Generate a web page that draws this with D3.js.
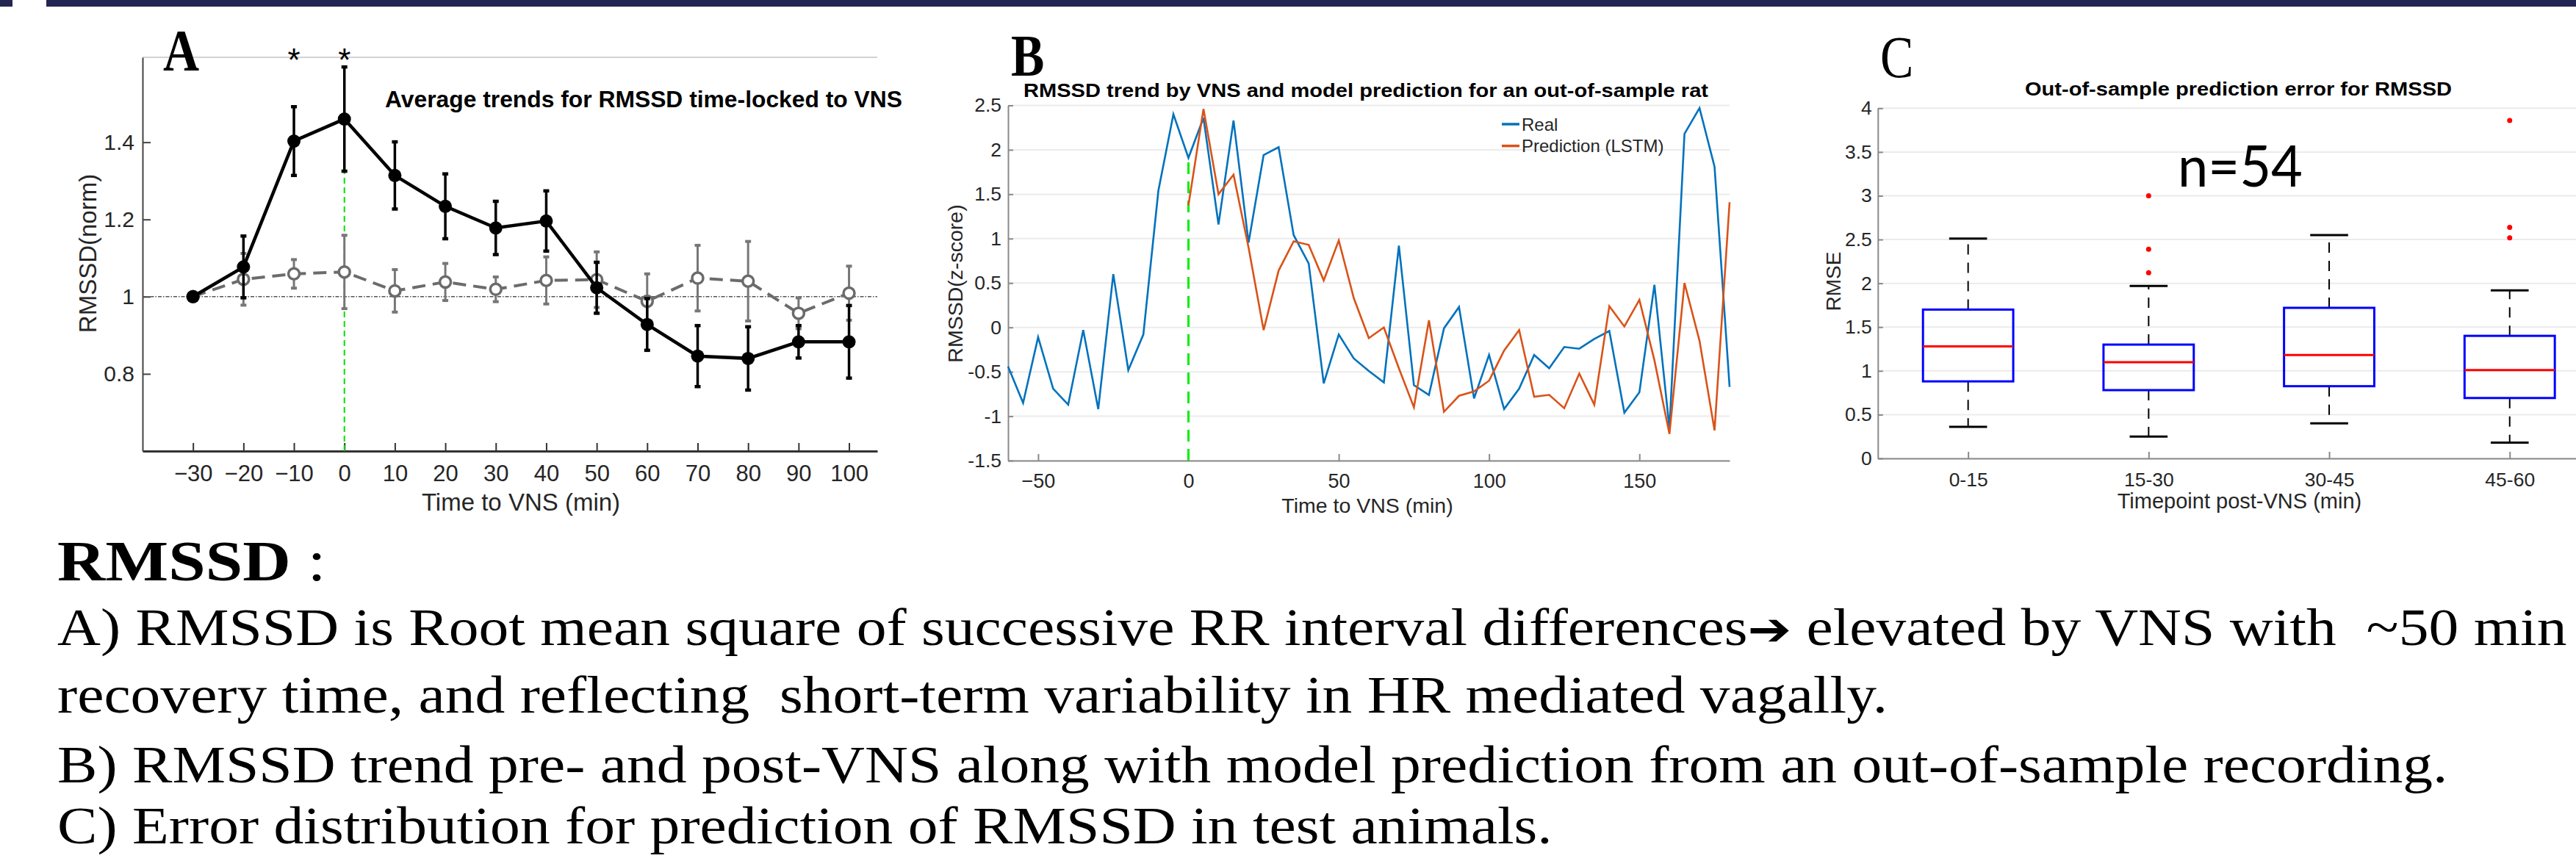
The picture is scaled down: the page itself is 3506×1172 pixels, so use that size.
<!DOCTYPE html>
<html>
<head>
<meta charset="utf-8">
<script src="https://cdn.jsdelivr.net/npm/d3@7"></script>
<style>
  html, body { margin: 0; padding: 0; background: #fff; }
  svg { display: block; }
</style>
</head>
<body>
<svg id="fig" width="3506" height="1172" font-family='"Liberation Sans", Arial, sans-serif'></svg>
<script>
// ---------- Panel A: average trends (mean +/- sem) ----------
const timeA = [-30, -20, -10, 0, 10, 20, 30, 40, 50, 60, 70, 80, 90, 100];
const vnsMean = [1.0, 1.077, 1.403, 1.460, 1.314, 1.234, 1.178, 1.196, 1.023, 0.928, 0.846, 0.840, 0.883, 0.883];
const vnsSem = [0, 0.080, 0.089, 0.135, 0.087, 0.084, 0.069, 0.078, 0.066, 0.067, 0.079, 0.082, 0.042, 0.094];
const shamMean = [1.0, 1.045, 1.059, 1.064, 1.015, 1.038, 1.019, 1.042, 1.044, 0.988, 1.048, 1.040, 0.957, 1.009];
const shamSem = [0, 0.067, 0.037, 0.095, 0.055, 0.048, 0.032, 0.061, 0.072, 0.071, 0.085, 0.103, 0.040, 0.070];
const sigTimes = [-10, 0];
const yTicksA = [0.8, 1, 1.2, 1.4];

// ---------- Panel B: real vs predicted trend ----------
const timeReal = [-60, -55, -50, -45, -40, -35, -30, -25, -20, -15, -10, -5, 0, 5, 10, 15, 20, 25, 30, 35,
  40, 45, 50, 55, 60, 65, 70, 75, 80, 85, 90, 95, 100, 105, 110, 115, 120, 125, 130, 135, 140, 145, 150,
  155, 160, 165, 170, 175, 180];
const realVals = [-0.44, -0.85, -0.11, -0.69, -0.87, -0.03, -0.92, 0.60, -0.48, -0.08, 1.54, 2.40, 1.91,
  2.36, 1.16, 2.33, 0.955, 1.94, 2.03, 1.04, 0.72, -0.63, -0.08, -0.35, -0.49, -0.62, 0.92, -0.65, -0.76,
  -0.01, 0.23, -0.80, -0.31, -0.92, -0.69, -0.31, -0.46, -0.22, -0.24, -0.13, -0.04, -0.96, -0.73, 0.48,
  -1.14, 2.18, 2.47, 1.81, -0.67];
const timePred = [0, 5, 10, 15, 20, 25, 30, 35, 40, 45, 50, 55, 60, 65, 70, 75, 80, 85, 90, 95, 100, 105,
  110, 115, 120, 125, 130, 135, 140, 145, 150, 155, 160, 165, 170, 175, 180];
const predVals = [1.375, 2.46, 1.50, 1.72, 0.90, -0.03, 0.64, 0.97, 0.93, 0.53, 0.98, 0.33, -0.12, 0.0,
  -0.46, -0.90, 0.08, -0.95, -0.77, -0.72, -0.60, -0.26, -0.03, -0.78, -0.76, -0.91, -0.52, -0.87, 0.24,
  0.01, 0.31, -0.37, -1.20, 0.50, -0.15, -1.16, 1.41];
const xTicksB = [-50, 0, 50, 100, 150];
const yTicksB = [-1.5, -1, -0.5, 0, 0.5, 1, 1.5, 2, 2.5];

// ---------- Panel C: boxplots of prediction error ----------
const boxCats = ["0-15", "15-30", "30-45", "45-60"];
const whiskLo = [0.36, 0.25, 0.40, 0.18];
const q1 = [0.88, 0.78, 0.825, 0.69];
const med = [1.28, 1.10, 1.18, 1.01];
const q3 = [1.70, 1.30, 1.72, 1.40];
const whiskHi = [2.51, 1.97, 2.55, 1.92];
const outliers = [[], [3.00, 2.39, 2.12], [], [3.86, 2.64, 2.52]];
const yTicksC = [0, 0.5, 1, 1.5, 2, 2.5, 3, 3.5, 4];

const SANS = '"Liberation Sans", Arial, sans-serif';
const SERIF = '"Liberation Serif", "Times New Roman", serif';

const svg = d3.select("#fig");
svg.append("rect").attr("width", 3506).attr("height", 1172).attr("fill", "#fff");

// slide header bar
svg.append("rect").attr("x", 0).attr("y", 0).attr("width", 17).attr("height", 9).attr("fill", "#222650");
svg.append("rect").attr("x", 63).attr("y", 0).attr("width", 3443).attr("height", 9).attr("fill", "#222650");

function styleAxis(g, lineColor, lineWidth, fontSize) {
  g.attr("font-family", SANS);
  g.select(".domain").attr("stroke", lineColor).attr("stroke-width", lineWidth);
  g.selectAll(".tick line").attr("stroke", lineColor).attr("stroke-width", 2);
  g.selectAll(".tick text").attr("fill", "#262626").attr("font-size", fontSize);
}

function panelLetter(x, y, letter, bold) {
  svg.append("text")
    .attr("transform", `translate(${x},${y}) scale(0.85,1)`)
    .attr("font-family", SERIF)
    .attr("font-weight", bold ? "bold" : "normal")
    .attr("font-size", 80).text(letter);
}

// ================= Panel A =================
const xA = d3.scaleLinear().domain([-40, 105.6]).range([194, 1194]);
const yA = d3.scaleLinear().domain([0.6, 1.62]).range([614, 78]);
const gA = svg.append("g");

gA.append("line")
  .attr("x1", xA.range()[0]).attr("x2", xA.range()[1])
  .attr("y1", yA(1.62)).attr("y2", yA(1.62))
  .attr("stroke", "#c4c4c4").attr("stroke-width", 1.5);

gA.append("g").attr("transform", `translate(0,${yA.range()[0]})`)
  .call(d3.axisBottom(xA).tickValues(timeA).tickSize(-11).tickSizeOuter(0).tickPadding(19))
  .call(g => styleAxis(g, "#333", 3, 31));
gA.append("g").attr("transform", `translate(${xA.range()[0]},0)`)
  .call(d3.axisLeft(yA).tickValues(yTicksA).tickSize(-11).tickSizeOuter(0).tickPadding(11)
    .tickFormat(d => String(d)))
  .call(g => styleAxis(g, "#444", 2, 30));

// reference lines
gA.append("line")
  .attr("x1", xA.range()[0]).attr("x2", xA.range()[1])
  .attr("y1", yA(1)).attr("y2", yA(1))
  .attr("stroke", "#555").attr("stroke-width", 1.6).attr("stroke-dasharray", "5,2,1.5,2");
gA.append("line")
  .attr("x1", xA(0)).attr("x2", xA(0))
  .attr("y1", yA(0.6)).attr("y2", yA(vnsMean[timeA.indexOf(0)]))
  .attr("stroke", "#00e000").attr("stroke-width", 2).attr("stroke-dasharray", "8,5");

function errorBars(g, means, sems, color, width) {
  timeA.forEach((t, i) => {
    if (!sems[i]) return;
    const x = xA(t), y0 = yA(means[i] - sems[i]), y1 = yA(means[i] + sems[i]);
    g.append("line").attr("x1", x).attr("x2", x).attr("y1", y0).attr("y2", y1)
      .attr("stroke", color).attr("stroke-width", width);
    [y0, y1].forEach(y => g.append("line").attr("x1", x - 4).attr("x2", x + 4)
      .attr("y1", y).attr("y2", y).attr("stroke", color).attr("stroke-width", width + 1));
  });
}

// sham (dashed gray, open circles)
const lineA = d3.line().x(d => xA(d[0])).y(d => yA(d[1]));
errorBars(gA, shamMean, shamSem, "#777", 3);
gA.append("path").datum(d3.zip(timeA, shamMean)).attr("d", lineA)
  .attr("fill", "none").attr("stroke", "#6b6b6b").attr("stroke-width", 4)
  .attr("stroke-dasharray", "18,10");
gA.selectAll("circle.sham").data(d3.zip(timeA, shamMean)).enter().append("circle")
  .attr("class", "sham").attr("cx", d => xA(d[0])).attr("cy", d => yA(d[1])).attr("r", 7.5)
  .attr("fill", "#fff").attr("stroke", "#6b6b6b").attr("stroke-width", 3.5);

// VNS (solid black, filled circles)
errorBars(gA, vnsMean, vnsSem, "#000", 3.5);
gA.append("path").datum(d3.zip(timeA, vnsMean)).attr("d", lineA)
  .attr("fill", "none").attr("stroke", "#000").attr("stroke-width", 4.5);
gA.selectAll("circle.vns").data(d3.zip(timeA, vnsMean)).enter().append("circle")
  .attr("class", "vns").attr("cx", d => xA(d[0])).attr("cy", d => yA(d[1])).attr("r", 9)
  .attr("fill", "#000");

gA.selectAll("text.sig").data(sigTimes).enter().append("text")
  .attr("class", "sig").attr("x", d => xA(d)).attr("y", 97)
  .attr("text-anchor", "middle").attr("font-size", 44).text("*");

gA.append("text").attr("x", 524).attr("y", 146).attr("font-weight", "bold").attr("font-size", 31.5)
  .attr("textLength", 704).attr("lengthAdjust", "spacingAndGlyphs")
  .text("Average trends for RMSSD time-locked to VNS");
gA.append("text").attr("x", 709).attr("y", 695).attr("text-anchor", "middle")
  .attr("font-size", 33).attr("fill", "#262626").text("Time to VNS (min)");
gA.append("text").attr("transform", "translate(131,345) rotate(-90)").attr("text-anchor", "middle")
  .attr("font-size", 33).attr("fill", "#262626").text("RMSSD(norm)");
panelLetter(222, 96, "A", true);

// ================= Panel B =================
const xB = d3.scaleLinear().domain([-60, 180]).range([1372, 2354]);
const yB = d3.scaleLinear().domain([-1.5, 2.5]).range([627, 143.5]);
const gB = svg.append("g");

gB.selectAll("line.grid").data(yTicksB).enter().append("line")
  .attr("class", "grid").attr("x1", xB.range()[0]).attr("x2", xB.range()[1])
  .attr("y1", d => yB(d)).attr("y2", d => yB(d))
  .attr("stroke", "#ebebeb").attr("stroke-width", 2);

gB.append("g").attr("transform", `translate(0,${yB.range()[0]})`)
  .call(d3.axisBottom(xB).tickValues(xTicksB).tickSize(-9).tickSizeOuter(0).tickPadding(18))
  .call(g => styleAxis(g, "#8a8a8a", 2, 27));
gB.append("g").attr("transform", `translate(${xB.range()[0]},0)`)
  .call(d3.axisLeft(yB).tickValues(yTicksB).tickSize(-7).tickSizeOuter(0).tickPadding(9)
    .tickFormat(d => String(d)))
  .call(g => styleAxis(g, "#8a8a8a", 2, 26.5));

gB.append("line")
  .attr("x1", xB(0)).attr("x2", xB(0))
  .attr("y1", yB(-1.5)).attr("y2", yB(realVals[timeReal.indexOf(0)] - 0.05))
  .attr("stroke", "#00ee00").attr("stroke-width", 3).attr("stroke-dasharray", "16,10");

const lineB = d3.line().x(d => xB(d[0])).y(d => yB(d[1]));
gB.append("path").datum(d3.zip(timeReal, realVals)).attr("d", lineB)
  .attr("fill", "none").attr("stroke", "#0072BD").attr("stroke-width", 2.6);
gB.append("path").datum(d3.zip(timePred, predVals)).attr("d", lineB)
  .attr("fill", "none").attr("stroke", "#D95319").attr("stroke-width", 2.6);

const legendB = [["Real", "#0072BD"], ["Prediction (LSTM)", "#D95319"]];
legendB.forEach((d, i) => {
  const y = 169 + i * 29.6;
  gB.append("line").attr("x1", 2044).attr("x2", 2068).attr("y1", y).attr("y2", y)
    .attr("stroke", d[1]).attr("stroke-width", 3.5);
  gB.append("text").attr("x", 2071).attr("y", y + 8.5).attr("font-size", 24)
    .attr("fill", "#262626").text(d[0]);
});

gB.append("text").attr("x", 1393).attr("y", 132).attr("font-weight", "bold").attr("font-size", 25.5)
  .attr("textLength", 932).attr("lengthAdjust", "spacingAndGlyphs")
  .text("RMSSD trend by VNS and model prediction for an out-of-sample rat");
gB.append("text").attr("x", 1861).attr("y", 698).attr("text-anchor", "middle")
  .attr("font-size", 28.5).attr("fill", "#262626").text("Time to VNS (min)");
gB.append("text").attr("transform", "translate(1310,386) rotate(-90)").attr("text-anchor", "middle")
  .attr("font-size", 28.5).attr("fill", "#262626").text("RMSSD(z-score)");
panelLetter(1376, 103, "B", true);

// ================= Panel C =================
const xC = d3.scaleLinear().domain([0.5, 4.5]).range([2555.8, 3538.6]);
const yC = d3.scaleLinear().domain([0, 4]).range([624, 147.3]);
const gC = svg.append("g");

gC.selectAll("line.grid").data(yTicksC).enter().append("line")
  .attr("class", "grid").attr("x1", xC.range()[0]).attr("x2", xC.range()[1])
  .attr("y1", d => yC(d)).attr("y2", d => yC(d))
  .attr("stroke", "#ebebeb").attr("stroke-width", 2);

gC.append("g").attr("transform", `translate(0,${yC.range()[0]})`)
  .call(d3.axisBottom(xC).tickValues(boxCats.map((c, i) => i + 1)).tickSize(-9).tickSizeOuter(0)
    .tickPadding(19).tickFormat((d, i) => boxCats[i]))
  .call(g => styleAxis(g, "#8a8a8a", 2, 26.5));
gC.append("g").attr("transform", `translate(${xC.range()[0]},0)`)
  .call(d3.axisLeft(yC).tickValues(yTicksC).tickSize(-7).tickSizeOuter(0).tickPadding(8)
    .tickFormat(d => String(d)))
  .call(g => styleAxis(g, "#8a8a8a", 2, 26.5));

const boxW = xC(0.5) - xC(0), capW = xC(0.21) - xC(0);
boxCats.forEach((c, i) => {
  const cx = xC(i + 1);
  // whiskers
  [[q3[i], whiskHi[i]], [q1[i], whiskLo[i]]].forEach(([a, b]) => {
    gC.append("line").attr("x1", cx).attr("x2", cx).attr("y1", yC(a)).attr("y2", yC(b))
      .attr("stroke", "#000").attr("stroke-width", 2).attr("stroke-dasharray", "14,11");
    gC.append("line").attr("x1", cx - capW / 2).attr("x2", cx + capW / 2)
      .attr("y1", yC(b)).attr("y2", yC(b)).attr("stroke", "#000").attr("stroke-width", 3);
  });
  gC.append("rect").attr("x", cx - boxW / 2).attr("width", boxW)
    .attr("y", yC(q3[i])).attr("height", yC(q1[i]) - yC(q3[i]))
    .attr("fill", "none").attr("stroke", "#0000ff").attr("stroke-width", 3);
  gC.append("line").attr("x1", cx - boxW / 2).attr("x2", cx + boxW / 2)
    .attr("y1", yC(med[i])).attr("y2", yC(med[i])).attr("stroke", "#ff0000").attr("stroke-width", 3);
  outliers[i].forEach(v => gC.append("circle").attr("cx", cx).attr("cy", yC(v)).attr("r", 3.5)
    .attr("fill", "#ff0000"));
});

gC.append("text").attr("x", 2756).attr("y", 130).attr("font-weight", "bold").attr("font-size", 25.5)
  .attr("textLength", 581).attr("lengthAdjust", "spacingAndGlyphs")
  .text("Out-of-sample prediction error for RMSSD");
gC.append("text").attr("x", 3048).attr("y", 692).attr("text-anchor", "middle")
  .attr("font-size", 29).attr("fill", "#262626").text("Timepoint post-VNS (min)");
gC.append("text").attr("transform", "translate(2505,383) rotate(-90)").attr("text-anchor", "middle")
  .attr("font-size", 28).attr("fill", "#262626").text("RMSE");
gC.append("text").attr("x", 2964).attr("y", 254).attr("font-family", "Lato, 'Open Sans', sans-serif")
  .attr("font-size", 78).attr("textLength", 170).attr("lengthAdjust", "spacingAndGlyphs").text("n=54");
panelLetter(2559, 105, "C", false);

// ================= caption text =================
const para = svg.append("g").attr("font-family", SERIF).attr("fill", "#000");
const head = para.append("text").attr("x", 0).attr("y", 790).attr("font-size", 79);
head.append("tspan").attr("font-weight", "bold").text("RMSSD");
head.append("tspan").text(" :");

const l1 = para.append("text").attr("x", 0).attr("y", 878).attr("font-size", 71);
l1.append("tspan").text("A) RMSSD is Root mean square of successive RR interval differences");
l1.append("tspan").attr("font-family", '"DejaVu Sans", sans-serif')
  .attr("font-size", 62).text("\u2794");
l1.append("tspan").text(" elevated by VNS with \u00a0~50 min");
para.append("text").attr("x", 0).attr("y", 970).attr("font-size", 71)
  .text("recovery time, and reflecting \u00a0short-term variability in HR mediated vagally.");
para.append("text").attr("x", 0).attr("y", 1065).attr("font-size", 71)
  .text("B) RMSSD trend pre- and post-VNS along with model prediction from an out-of-sample recording.");
const lastLine = para.append("text").attr("x", 0).attr("y", 1148).attr("font-size", 71)
  .text("C) Error distribution for prediction of RMSSD in test animals.");

// the caption face in the slide is wider than the installed serif: stretch to the measured width
const kx = 2035 / lastLine.node().getComputedTextLength();
para.attr("transform", `translate(78,0) scale(${kx},1)`);
</script>
</body>
</html>
